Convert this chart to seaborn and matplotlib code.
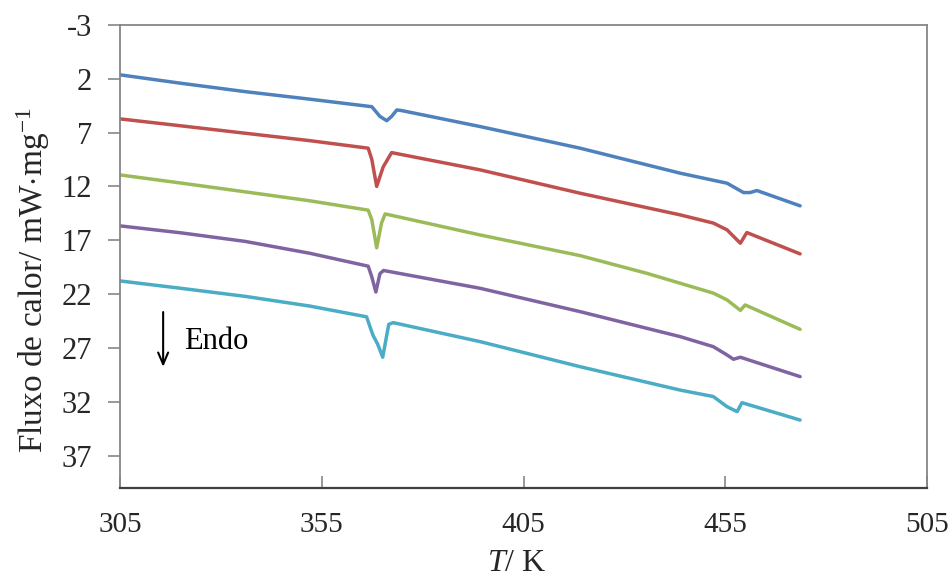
import matplotlib
matplotlib.use("Agg")
import matplotlib.pyplot as plt
import seaborn as sns
import pandas as pd

# Temperatures (K) and heat flow (mW/mg)
t_blue = [305, 320, 336, 352, 367.4, 369.4, 371.1, 372.3, 373.6, 374.8, 394.2, 419.0, 443.8, 455.4, 459.5, 461.1, 462.8, 473.5]
y_blue = [1.64, 2.42, 3.2, 3.9, 4.6, 5.5, 5.9, 5.5, 4.9, 4.96, 6.44, 8.45, 10.77, 11.7, 12.57, 12.57, 12.38, 13.8]

t_red = [305, 320, 336, 352, 366.5, 367.4, 368.6, 370.2, 372.3, 394.2, 419.0, 443.8, 452.0, 455.4, 458.7, 460.3, 473.5]
y_red = [5.73, 6.37, 7.06, 7.75, 8.45, 9.5, 12.0, 10.2, 8.86, 10.46, 12.63, 14.64, 15.4, 16.03, 17.27, 16.28, 18.26]

t_green = [305, 320, 336, 352, 366.5, 367.4, 368.6, 369.8, 370.7, 394.2, 419.0, 435.5, 452.0, 455.4, 458.7, 459.9, 473.5]
y_green = [10.93, 11.68, 12.5, 13.33, 14.2, 15.1, 17.7, 15.4, 14.55, 16.5, 18.42, 20.06, 21.9, 22.53, 23.5, 23.0, 25.26]

t_purple = [305, 320, 336, 352, 366.5, 367.4, 368.4, 369.4, 370.3, 394.2, 419.0, 443.8, 452.0, 455.4, 457.0, 458.7, 473.5]
y_purple = [15.66, 16.3, 17.1, 18.2, 19.4, 20.4, 21.8, 20.1, 19.8, 21.45, 23.62, 25.94, 26.87, 27.64, 28.04, 27.85, 29.65]

t_cyan = [305, 320, 336, 352, 366.1, 367.2, 367.8, 368.8, 370.1, 370.9, 371.6, 372.7, 394.2, 419.0, 443.8, 452.0, 455.4, 457.9, 459.1, 473.5]
y_cyan = [20.77, 21.45, 22.2, 23.1, 24.1, 25.3, 25.9, 26.6, 27.85, 26.2, 24.8, 24.64, 26.4, 28.73, 30.9, 31.5, 32.44, 32.9, 32.07, 33.68]

series = [
    ("s1", t_blue, y_blue, "#4F81BD"),
    ("s2", t_red, y_red, "#C0504D"),
    ("s3", t_green, y_green, "#9BBB59"),
    ("s4", t_purple, y_purple, "#8064A2"),
    ("s5", t_cyan, y_cyan, "#4BACC6"),
]

x_ticks = [305, 355, 405, 455, 505]
y_ticks = [-3, 2, 7, 12, 17, 22, 27, 32, 37]

sns.set_theme(style="white")
plt.rcParams['font.family'] = ['Liberation Serif', 'DejaVu Serif']
plt.rcParams['mathtext.fontset'] = 'custom'
plt.rcParams['mathtext.rm'] = 'Liberation Serif'
plt.rcParams['mathtext.it'] = 'Liberation Serif:italic'

fig = plt.figure(figsize=(9.52, 5.77), dpi=100)
ax = fig.add_axes([0.126, 0.154, 0.848, 0.803])

for name, t, y, c in series:
    df = pd.DataFrame({"T": t, "Q": y})
    sns.lineplot(data=df, x="T", y="Q", ax=ax, color=c, linewidth=2.5,
                 estimator=None, sort=False, legend=False)

ax.set_xlim(305, 505)
ax.set_ylim(40, -3)
ax.set_xticks(x_ticks)
ax.set_yticks(y_ticks)
ax.set_xticklabels([str(v) for v in x_ticks], fontsize=21)
ax.set_yticklabels([str(v) for v in y_ticks], fontsize=22)
ax.tick_params(axis='x', direction='in', length=9, width=1.2, color='#868686', pad=17, bottom=True)
ax.tick_params(axis='y', direction='out', length=9, width=1.2, color='#868686', pad=11, left=True)

for sp in ax.spines.values():
    sp.set_color('#868686')
    sp.set_linewidth(1.3)
    sp.set_visible(True)
ax.spines['bottom'].set_color('#404040')
ax.spines['bottom'].set_linewidth(1.6)

ax.set_xlabel(r'$\mathit{T}$/ K', fontsize=23)
ax.set_ylabel(r'Fluxo de calor/ mW$\cdot$mg$^{\mathrm{-1}}$', fontsize=24)
ax.xaxis.label.set_va('center')
ax.yaxis.label.set_va('center')
ax.xaxis.set_label_coords(0.492, -0.162)
ax.yaxis.set_label_coords(-0.108, 0.449)

ax.annotate('', xy=(315.7, 29.0), xytext=(315.7, 23.4),
            arrowprops=dict(arrowstyle='->,head_length=0.7,head_width=0.3', color='black', lw=1.5))
ax.text(321.0, 26.4, 'Endo', fontsize=22, va='center', ha='left', color='black')

fig.savefig('out.png', dpi=100)
